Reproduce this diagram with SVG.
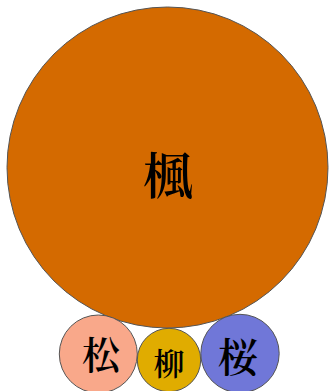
<svg xmlns="http://www.w3.org/2000/svg" width="329" height="391" viewBox="0 0 329 391">
<style>
circle { stroke: #555; stroke-width: 1; }
text { font-family: "Noto Serif CJK JP", "Liberation Serif", "Noto Sans CJK JP", serif; text-anchor: middle; dominant-baseline: central; fill: #000; font-weight: 600; }
</style>
<rect width="329" height="391" fill="#fff"/>
<g id="kaede"><circle cx="167.5" cy="167.5" r="160.5" fill="#D46A00"/><text x="168" y="172" font-size="50">楓</text></g>
<g id="matsu"><circle cx="98.3" cy="354" r="39" fill="#F9A88A"/><text x="101" y="352" font-size="38">松</text></g>
<g id="yanagi"><circle cx="169" cy="360" r="31.7" fill="#E0AC00"/><text x="169" y="361" font-size="31">柳</text></g>
<g id="sakura"><circle cx="240" cy="353.5" r="39.2" fill="#7077D8"/><text x="238" y="354" font-size="40">桜</text></g>
</svg>
